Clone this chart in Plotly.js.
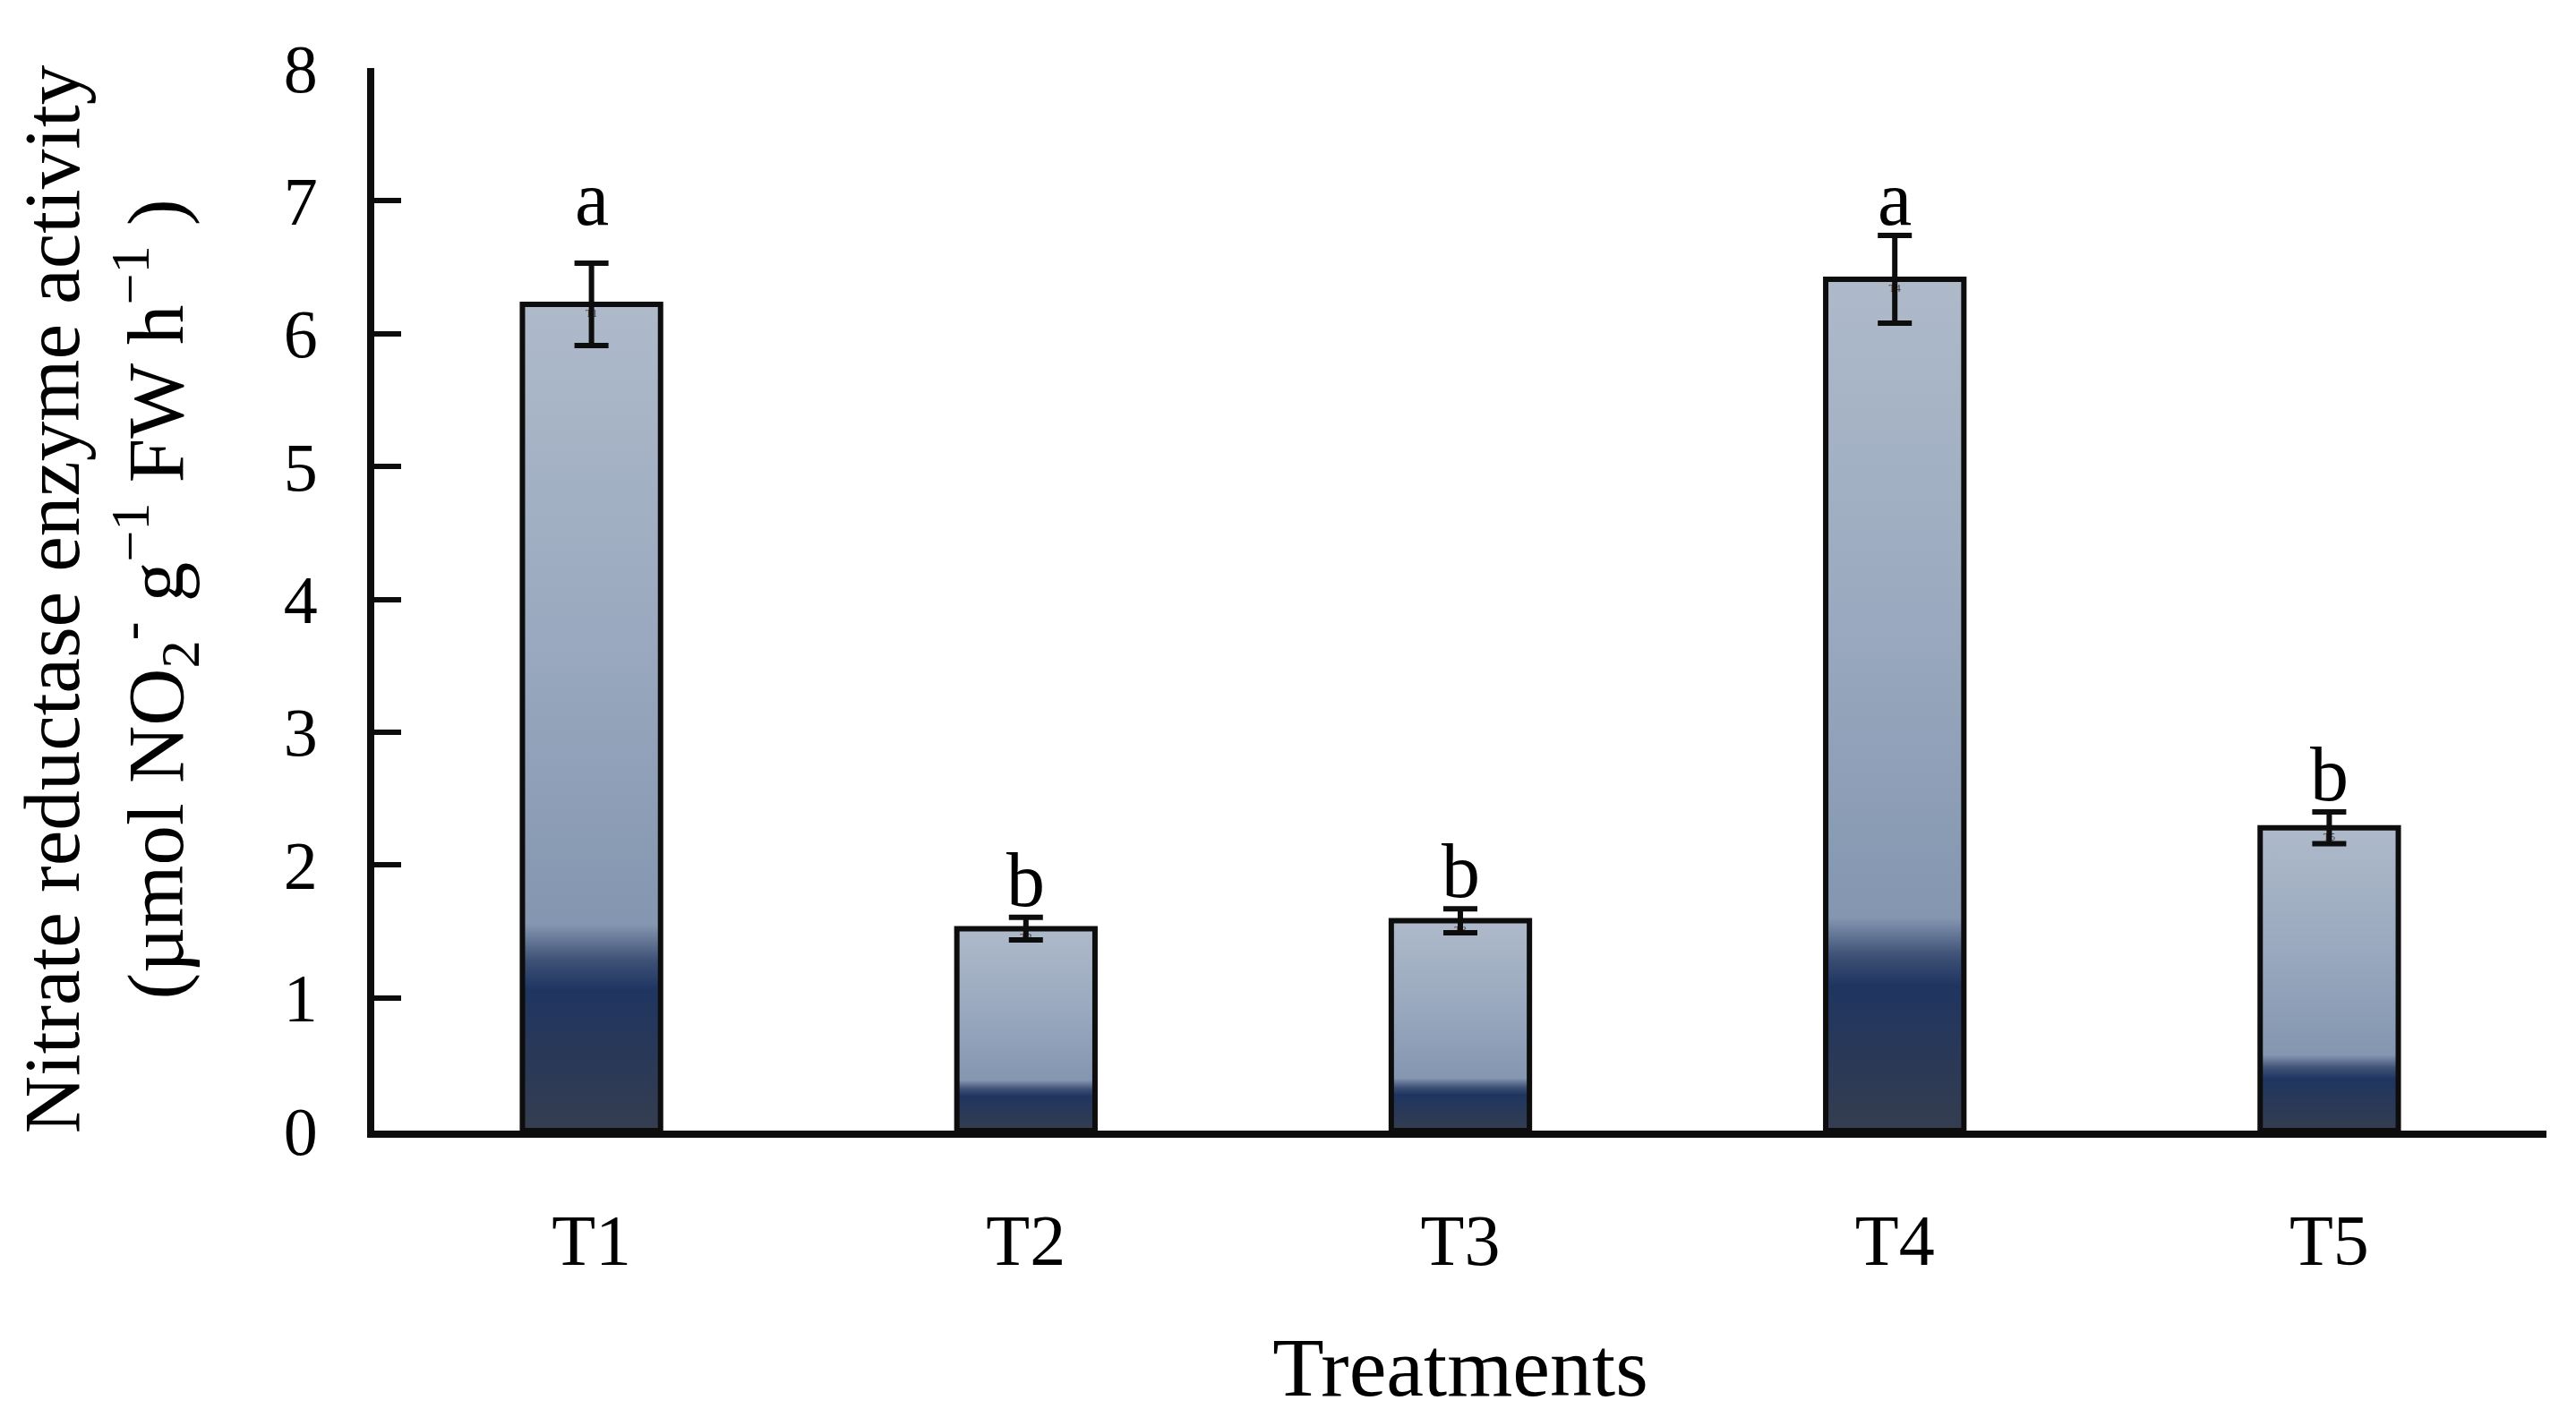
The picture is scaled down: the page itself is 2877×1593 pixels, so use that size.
<!DOCTYPE html>
<html>
<head>
<meta charset="utf-8">
<script src="https://cdn.plot.ly/plotly-3.0.1.min.js"></script>
<style>html,body{margin:0;padding:0;background:#fff;}#chart{width:2877px;height:1593px;}</style>
</head>
<body>
<div id="chart"></div>
<script>
// ---- data ----
const categories = ["T1", "T2", "T3", "T4", "T5"];
const values = [6.22, 1.52, 1.58, 6.41, 2.28];
const errors = [0.31, 0.085, 0.09, 0.33, 0.12];
const letters = ["a", "b", "b", "a", "b"];
const letterBaseline = [6.80, 1.67, 1.74, 6.80, 2.47];
const yTicks = [0, 1, 2, 3, 4, 5, 6, 7, 8];

// ---- styling ----
const FONT = "Liberation Serif, Times New Roman, serif";
const barWidth = 0.318;
const gradient = [
  [0.0, "#343e50"],
  [0.08, "#2b3957"],
  [0.17, "#1f3560"],
  [0.205, "#3d5075"],
  [0.25, "#8496b0"],
  [0.6, "#9aa9bf"],
  [1.0, "#aebaca"]
];

const xIdx = categories.map((c, i) => i);

// gradient fills, one per bar, derived from the data arrays
const fills = values.map((v, i) => ({
  type: "scatter",
  x: [i - barWidth / 2, i + barWidth / 2, i + barWidth / 2, i - barWidth / 2, i - barWidth / 2],
  y: [0, 0, v, v, 0],
  mode: "lines",
  line: {width: 0, color: "rgba(0,0,0,0)"},
  fill: "toself",
  fillgradient: {type: "vertical", start: 0, stop: v, colorscale: gradient},
  hoverinfo: "skip",
  showlegend: false,
  xaxis: "x", yaxis: "y"
}));

const bars = {
  type: "bar",
  x: xIdx,
  y: values,
  width: barWidth,
  marker: {color: "rgba(0,0,0,0)", line: {color: "#0d0d0d", width: 6}},
  error_y: {type: "data", array: errors, visible: true, color: "#0d0d0d", thickness: 6, width: 19},
  showlegend: false,
  xaxis: "x2", yaxis: "y2",
  hovertemplate: "%{text}: %{y}<extra></extra>",
  text: categories
};

const annotations = letters.map((t, i) => ({
  x: i, y: letterBaseline[i], xref: "x", yref: "y",
  text: t, showarrow: false, yanchor: "bottom", yshift: -18,
  font: {family: FONT, size: 86, color: "#000"}
}));

const layout = {
  width: 2877, height: 1593,
  margin: {l: 418, r: 33, t: 76, b: 330},
  paper_bgcolor: "#fff", plot_bgcolor: "rgba(0,0,0,0)",
  font: {family: FONT, color: "#000"},
  showlegend: false,
  xaxis: {
    range: [-0.5, 4.5], tickvals: xIdx, ticktext: categories,
    showline: true, linecolor: "#0d0d0d", linewidth: 8,
    ticks: "", showgrid: false, zeroline: false,
    tickfont: {family: FONT, size: 80, color: "#000"},
    ticklabelstandoff: 46,
    title: {text: "Treatments", font: {family: FONT, size: 94, color: "#000"}, standoff: 67}
  },
  yaxis: {
    range: [0, 8], tickvals: yTicks,
    showline: true, linecolor: "#0d0d0d", linewidth: 8,
    ticks: "inside", ticklen: 30, tickwidth: 6, tickcolor: "#0d0d0d",
    showgrid: false, zeroline: false,
    tickfont: {family: FONT, size: 76, color: "#000"},
    ticklabelstandoff: 40,
    title: {
      text: "Nitrate reductase enzyme activity<br>(µmol NO<sub>2</sub><sup>-</sup> g<sup>−1</sup> FW h<sup>−1</sup> )",
      font: {family: FONT, size: 89, color: "#000"}, standoff: 86
    }
  },
  xaxis2: {range: [-0.5, 4.5], overlaying: "x", visible: false, showgrid: false, zeroline: false},
  yaxis2: {range: [0, 8], overlaying: "y", visible: false, showgrid: false, zeroline: false},
  annotations: annotations
};

Plotly.newPlot("chart", fills.concat([bars]), layout, {displayModeBar: false, staticPlot: true});
</script>
</body>
</html>
